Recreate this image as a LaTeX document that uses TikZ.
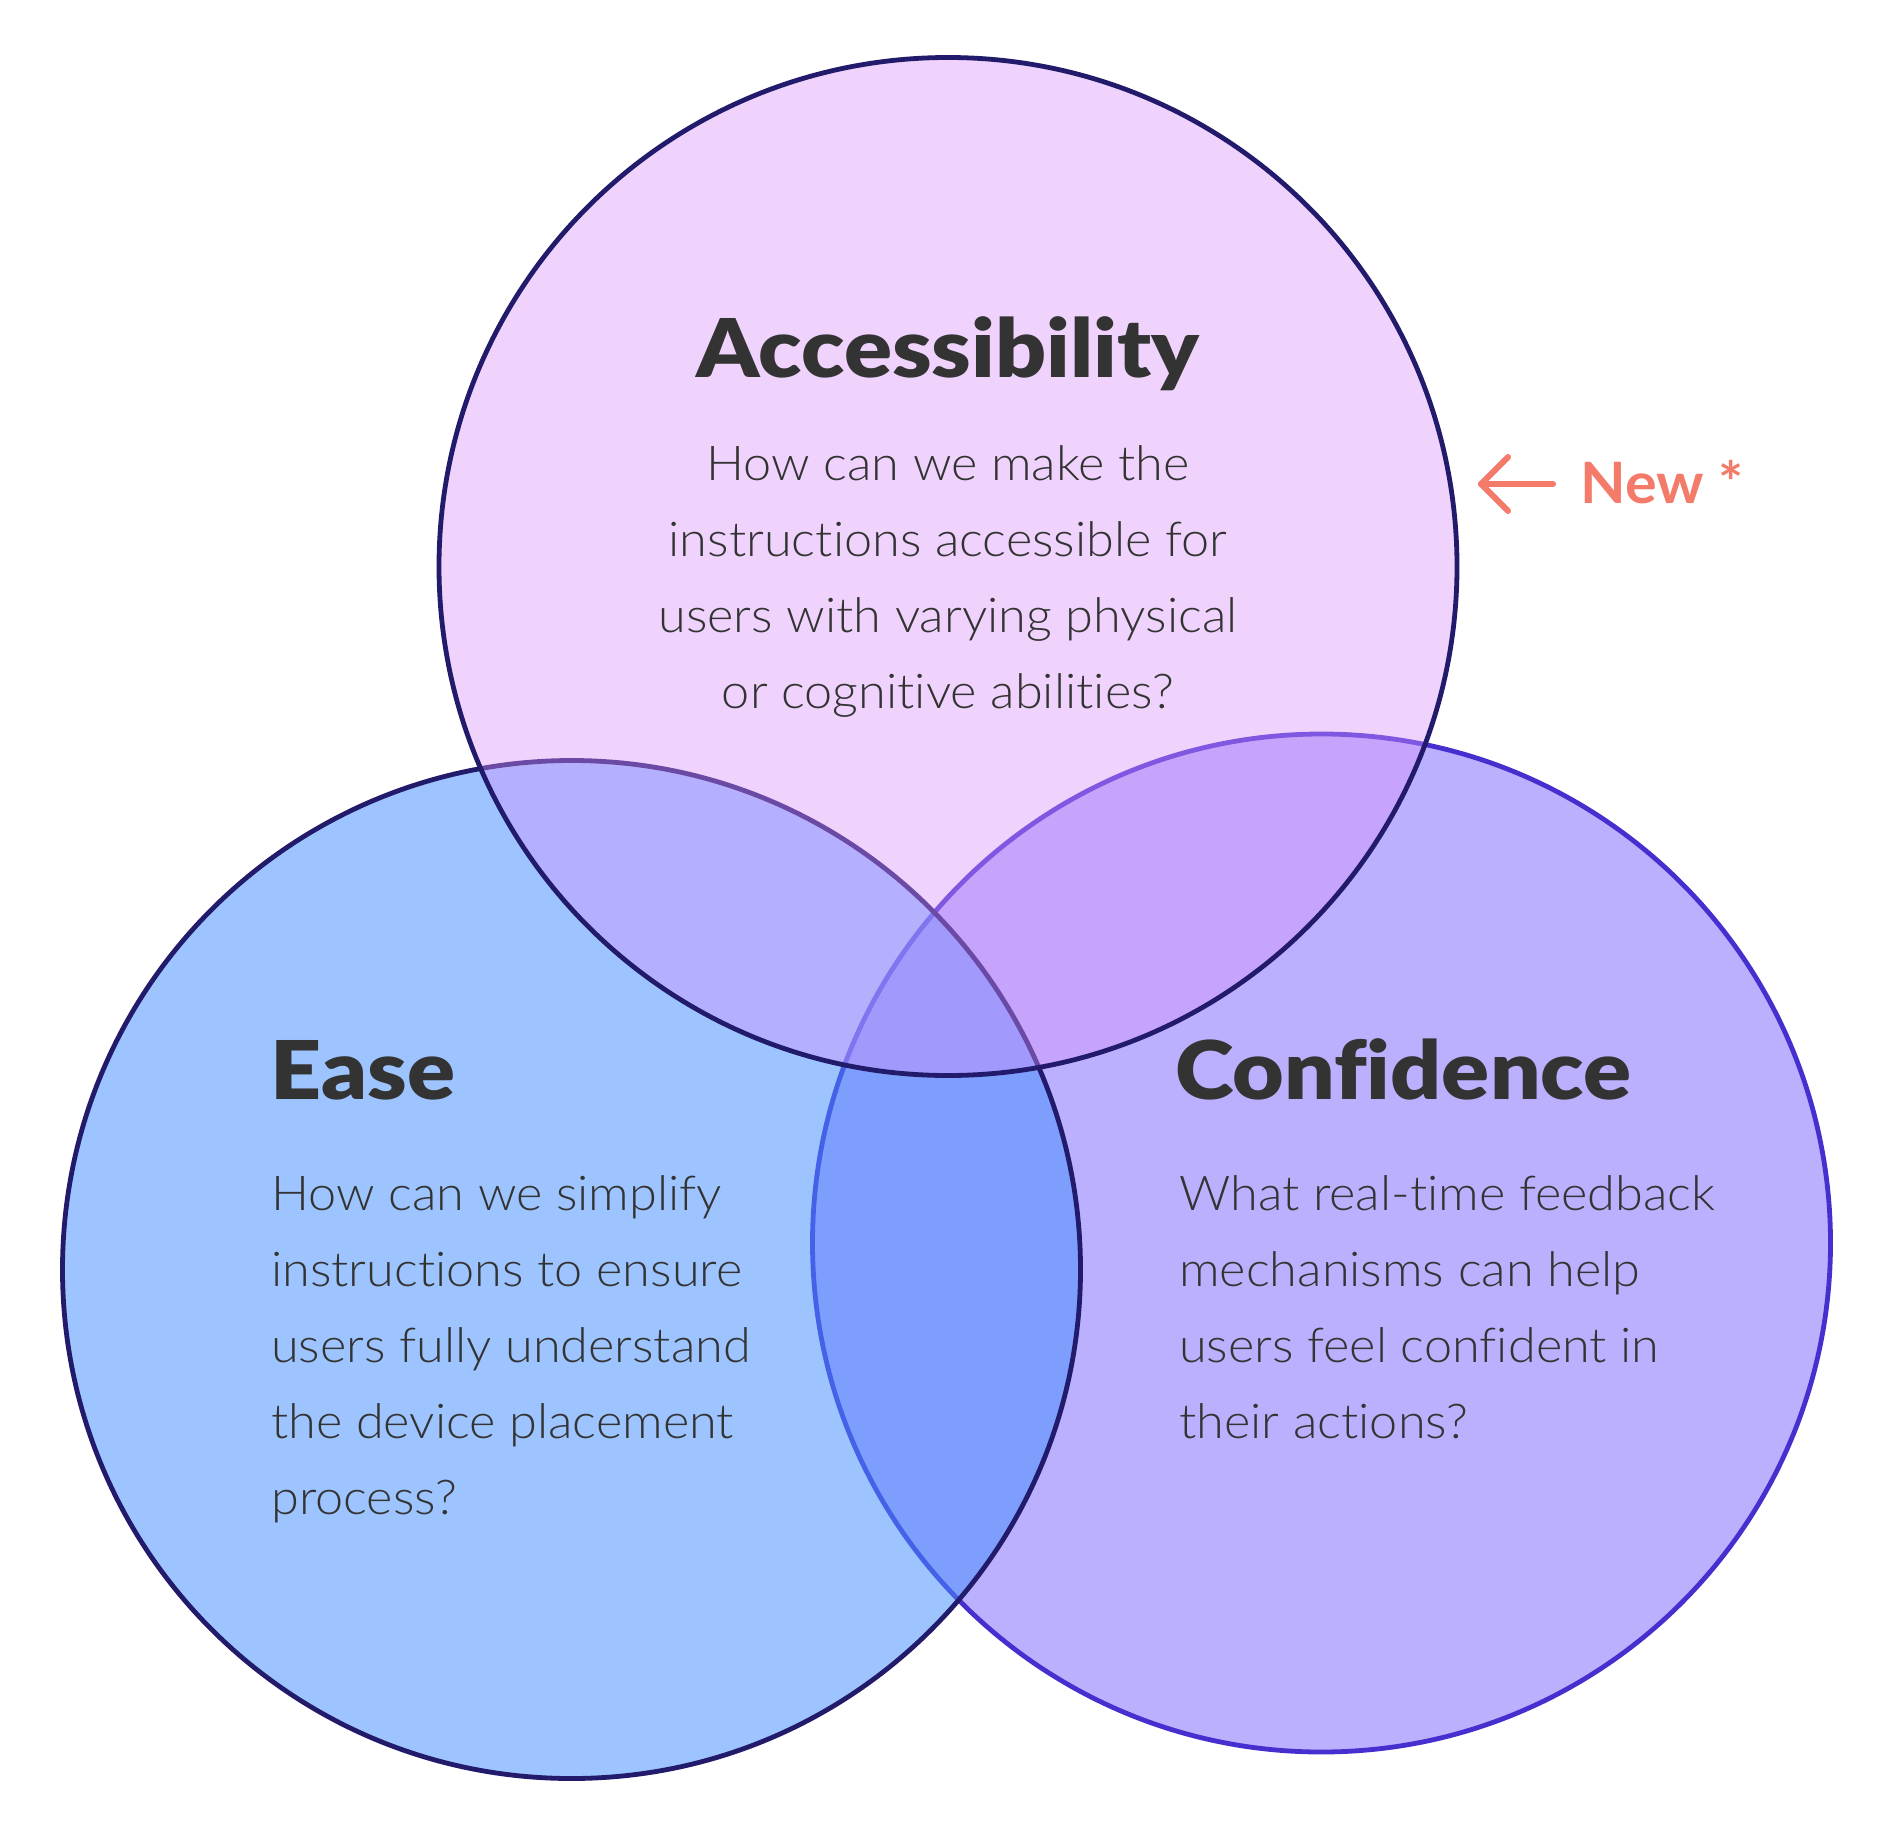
\documentclass[tikz,border=0pt]{standalone}
\usepackage{fontspec}
\setmainfont{Lato}
\newfontfamily\titlefont[FakeStretch=1.10,Ligatures={NoCommon,NoRare}]{Lato Black}
\newfontfamily\bodyfont[FakeStretch=1.05,Ligatures={NoCommon,NoRare}]{Lato Light}
\newfontfamily\markfont[FakeStretch=1.04]{Lato}
\definecolor{txt}{HTML}{333333}
\definecolor{rfill}{HTML}{BBB0FD}
\definecolor{rstroke}{HTML}{4530CF}
\definecolor{lfill}{RGB}{69,142,254}
\definecolor{tfill}{RGB}{217,147,252}
\definecolor{navy}{HTML}{221A6B}
\definecolor{salmon}{HTML}{F47B69}
\begin{document}
\begin{tikzpicture}[x=1pt,y=-1pt,
  ring/.style={circle, minimum size=1018pt, inner sep=0pt, line width=4.8pt},
  ttl/.style={text=txt, font=\titlefont\fontsize{81}{90}\selectfont, inner sep=0pt},
  body/.style={text=txt, font=\bodyfont\fontsize{48}{76}\selectfont, inner sep=0pt},
  newmark/.style={salmon, line width=6pt, line cap=round, line join=round}]
\fill[white] (0,0) rectangle (1894,1838);
\useasboundingbox (0,0) rectangle (1894,1838);
% circles, bottom to top
\node[ring, draw=rstroke, fill=rfill] (conf) at (1321.5,1243) {};
\node[ring, draw=navy, fill=lfill, fill opacity=0.52, draw opacity=1] (ease) at (571.5,1269.5) {};
\node[ring, draw=navy, fill=tfill, fill opacity=0.4, draw opacity=1] (acc) at (948,566.5) {};
% titles
\node[ttl, anchor=base] (acct) at (948,377) {Accessibility};
\node[ttl, anchor=base west] (easet) at (270,1099) {Ease};
\node[ttl, anchor=base west] (conft) at (1175,1099) {Confidence};
% bodies (base anchor = baseline of last line)
\node[body, anchor=base, align=center] (accb) at (948,708) {How can we make the\\instructions accessible for\\users with varying physical\\or cognitive abilities?};
\node[body, anchor=base west, align=left] (easeb) at (271,1514) {How can we simplify\\instructions to ensure\\users fully understand\\the device placement\\process?};
\node[body, anchor=base west, align=left] (confb) at (1179,1438) {What real-time feedback\\mechanisms can help\\users feel confident in\\their actions?};
% new marker
\coordinate (tip) at (1481,484);
\coordinate (tail) at (1553,484);
\coordinate (armu) at (1508,457);
\coordinate (arml) at (1508,511);
\draw[newmark] (tail) -- (tip);
\draw[newmark] (armu) -- (tip) -- (arml);
\node[text=salmon, font=\markfont\bfseries\fontsize{57}{60}\selectfont, anchor=base west, inner sep=0pt] (new) at (1580,503) {New *};
\end{tikzpicture}
\end{document}
